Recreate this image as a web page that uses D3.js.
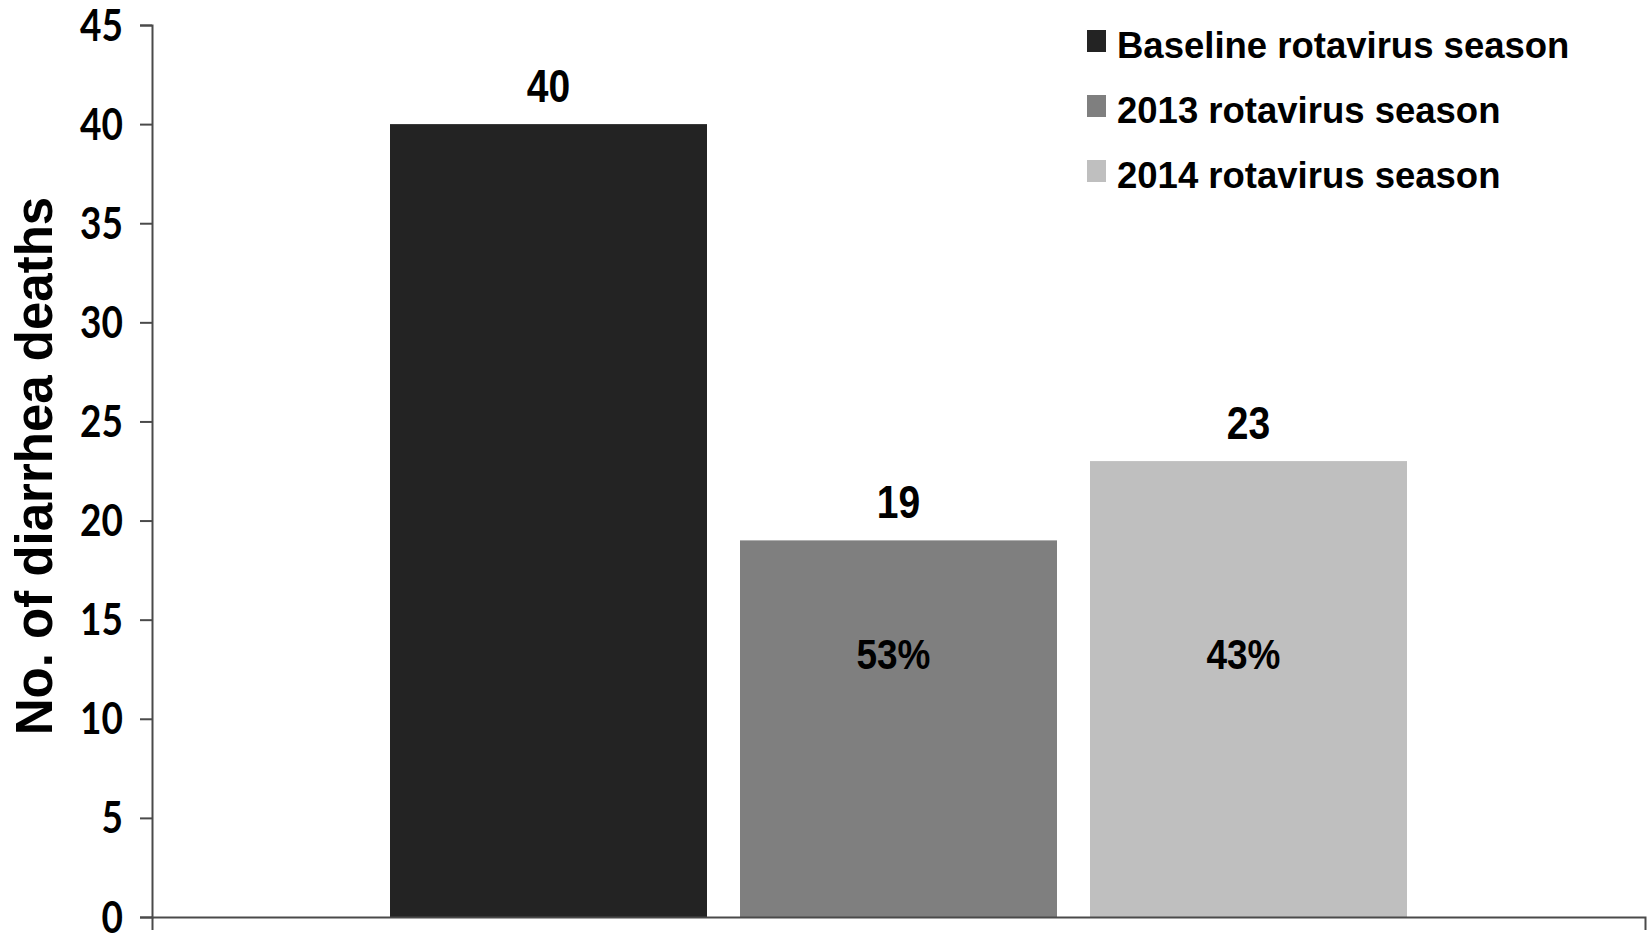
<!DOCTYPE html>
<html>
<head>
<meta charset="utf-8">
<script src="https://cdn.jsdelivr.net/npm/d3@7/dist/d3.min.js"></script>
<style>
  html, body { margin: 0; padding: 0; background: #ffffff; }
  svg { display: block; }
</style>
</head>
<body>
<svg id="chart" width="1648" height="937"></svg>
<script>
// Diarrhea deaths per rotavirus season
const category = ["Rotavirus season"];
const seasons = ["Baseline rotavirus season", "2013 rotavirus season", "2014 rotavirus season"];
const deaths = [40, 19, 23];
const reductionLabels = ["", "53%", "43%"];
const yTicks = [0, 5, 10, 15, 20, 25, 30, 35, 40, 45];
const colors = ["#232323", "#7f7f7f", "#bfbfbf"];

const svg = d3.select("#chart");
const plot = { left: 152, right: 1645, top: 25, bottom: 917 };

const y = d3.scaleLinear().domain([0, 45]).range([plot.bottom, plot.top]);
const x0 = d3.scaleBand().domain(category).range([plot.left, plot.right]);
const x1 = d3.scaleBand().domain(seasons).range([0, x0.bandwidth()])
  .paddingInner(0.0943).paddingOuter(0.68);
const color = d3.scaleOrdinal().domain(seasons).range(colors);

const rows = seasons.map((s, i) => ({ season: s, value: deaths[i], pct: reductionLabels[i] }));

// bars
const group = svg.append("g").attr("transform", `translate(${x0(category[0])},0)`);
group.selectAll("rect.bar").data(rows).join("rect")
  .attr("class", "bar")
  .attr("x", d => x1(d.season))
  .attr("y", d => y(d.value))
  .attr("width", x1.bandwidth())
  .attr("height", d => y(0) - y(d.value))
  .attr("fill", d => color(d.season));

// condensed bold text helper
function condensed(sel, sx) {
  return sel.attr("transform", function () {
    const t = d3.select(this);
    return `translate(${t.attr("data-x")},${t.attr("data-y")}) scale(${sx},1)`;
  });
}

// value labels above bars
group.selectAll("text.value").data(rows).join("text")
  .attr("class", "value")
  .attr("data-x", d => x1(d.season) + x1.bandwidth() / 2)
  .attr("data-y", d => y(d.value) - 22)
  .attr("text-anchor", "middle")
  .style("font-family", "'Liberation Sans', Arial, sans-serif")
  .style("font-weight", "bold")
  .style("font-size", "47px")
  .attr("fill", "#000")
  .text(d => d.value)
  .call(condensed, 0.83);

// reduction labels inside bars
group.selectAll("text.pct").data(rows.filter(d => d.pct)).join("text")
  .attr("class", "pct")
  .attr("data-x", d => x1(d.season) + x1.bandwidth() / 2 - 5)
  .attr("data-y", y(12.5))
  .attr("text-anchor", "middle")
  .style("font-family", "'Liberation Sans', Arial, sans-serif")
  .style("font-weight", "bold")
  .style("font-size", "42px")
  .attr("fill", "#000")
  .text(d => d.pct)
  .call(condensed, 0.88);

// axes
const axisColor = "#4a4a4a";
const yAxis = svg.append("g")
  .attr("transform", `translate(${plot.left},0)`)
  .call(d3.axisLeft(y).tickValues(yTicks).tickSize(12).tickSizeOuter(12).tickFormat(d3.format("d")));
yAxis.selectAll("path, line").attr("stroke", axisColor).attr("stroke-width", 2);
yAxis.selectAll("text")
  .attr("x", null).attr("dy", null)
  .attr("text-anchor", "end")
  .attr("fill", "#000")
  .style("font-family", "Lato, 'Open Sans', sans-serif")
  .style("font-weight", "bold")
  .style("font-size", "43px")
  .attr("transform", "translate(-29,15) scale(0.86,1)");

const xAxis = svg.append("g")
  .attr("transform", `translate(0,${plot.bottom})`)
  .call(d3.axisBottom(x0).tickValues([]).tickSizeOuter(13));
xAxis.selectAll("path").attr("stroke", axisColor).attr("stroke-width", 2);

// y-axis title
svg.append("text")
  .attr("transform", `translate(52,466) rotate(-90)`)
  .attr("text-anchor", "middle")
  .style("font-family", "'Liberation Sans', Arial, sans-serif")
  .style("font-weight", "bold")
  .style("font-size", "51px")
  .attr("fill", "#000")
  .text("No. of diarrhea deaths");

// legend
const legend = svg.append("g").attr("transform", "translate(1087,30)");
const item = legend.selectAll("g.item").data(seasons).join("g")
  .attr("class", "item")
  .attr("transform", (d, i) => `translate(0,${i * 65})`);
item.append("rect")
  .attr("width", 19).attr("height", 22)
  .attr("fill", d => color(d));
item.append("text")
  .attr("x", 30).attr("y", 28)
  .style("font-family", "'Liberation Sans', Arial, sans-serif")
  .style("font-weight", "bold")
  .style("font-size", "36.5px")
  .attr("fill", "#000")
  .text(d => d);
</script>
</body>
</html>
